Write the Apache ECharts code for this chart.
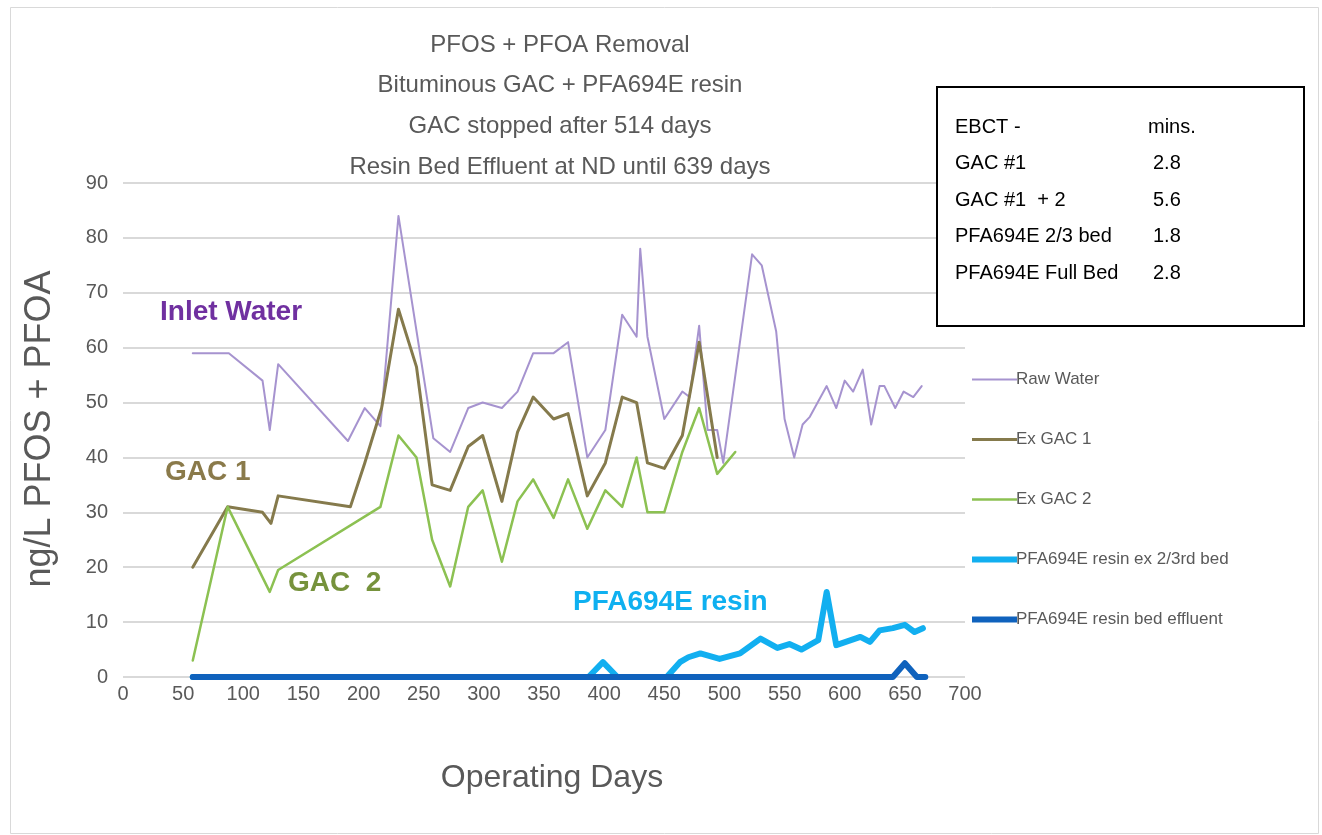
<!DOCTYPE html>
<html>
<head>
<meta charset="utf-8">
<script src="https://cdn.jsdelivr.net/npm/echarts@6/dist/echarts.min.js"></script>
<style>
html,body{margin:0;padding:0;background:#fff;}
#chart{width:1322px;height:835px;}
</style>
</head>
<body>
<div id="chart"></div>
<script>
// ---- data ----
const titleLines = ["PFOS + PFOA Removal","Bituminous GAC + PFA694E resin","GAC stopped after 514 days","Resin Bed Effluent at ND until 639 days"];
const seriesNames = ["Raw Water","Ex GAC 1","Ex GAC 2","PFA694E resin ex 2/3rd bed","PFA694E resin bed effluent"];
const rawDays = [58,88,116,122,129,187,201,214,229,258,272,287,299,315,328,341,358,370,386,401,415,427,430,436,450,465,471,479,486,494,499,523,531,543,550,558,565,571,585,593,600,607,615,622,629,633,642,649,657,664];
const rawVals = [59,59,54,45,57,43,49,45.7,84,43.5,41,49,50,49,52,59,59,61,40,45,66,62,78,62,47,52,51,64,45,45,39,77,75,63,47,40,46,47.4,53,49,54,52,56,46,53,53,49,52,51,53];
const gac1Days = [58,87,116,123,129,189,201,215,229,244,257,272,287,299,315,328,341,358,370,386,401,415,427,436,450,465,479,494];
const gac1Vals = [20,31,30,28,33,31,39,49,67,56.5,35,34,42,44,32,44.6,51,47,48,33,39,51,50,39,38,44,61,40];
const gac2Days = [58,87,122,129,214,229,244,257,272,287,299,315,328,341,358,370,386,401,415,427,436,450,465,479,494,509];
const gac2Vals = [3,31,15.5,19.5,31,44,40,25,16.5,31,34,21,32,36,29,36,27,34,31,40,30,30,41,49,37,41];
const resinDays = [58,387,399,411,452,463,470,480,496,513,530,544,554,564,578,585,593,613,621,629,640,650,658,665];
const resinVals = [0,0,2.7,0,0,2.7,3.6,4.3,3.3,4.3,7,5.3,6,5,6.7,15.5,5.8,7.3,6.4,8.5,8.9,9.5,8.2,8.9];
const effDays = [58,640,650,660,667];
const effVals = [0,0,2.5,0,0];
const annotations = ["Inlet Water","GAC 1","GAC  2","PFA694E resin"];
const ebctLabels = ["EBCT -","GAC #1","GAC #1  + 2","PFA694E 2/3 bed","PFA694E Full Bed"];
const ebctValues = ["mins.","2.8","5.6","1.8","2.8"];

const colors = ["#a693cf","#857a4c","#8cc152","#12aff0","#0f62bd"];
const widths = [2,3,2.5,6,6];
const zip = (a,b)=>a.map((d,i)=>[d,b[i]]);
const allData = [zip(rawDays,rawVals),zip(gac1Days,gac1Vals),zip(gac2Days,gac2Vals),zip(resinDays,resinVals),zip(effDays,effVals)];

const NARROW = "'Liberation Sans Narrow','Liberation Sans',sans-serif";
const GRAY = "#595959";

const series = seriesNames.map((n,i)=>({
  name:n, type:'line', data:allData[i], showSymbol:false, symbol:'none',
  lineStyle:{color:colors[i],width:widths[i],join:'round',cap:'round'},
  itemStyle:{color:colors[i]}, z: 2+i, animation:false
}));

const legends = seriesNames.map((n,i)=>({
  data:[n], left:967, top:377+60*i-11, orient:'vertical', icon:'rect',
  itemWidth:45, itemHeight:widths[i], itemGap:0,
  textStyle:{fontFamily:NARROW,fontSize:17,color:GRAY,padding:[0,0,0,-6]},
  selectedMode:false
}));

const graphics = [];
graphics.push({type:'rect',left:8,top:5,shape:{width:1308,height:826},style:{fill:'none',stroke:'#d9d9d9',lineWidth:1},silent:true,z:0});
titleLines.forEach((t,i)=>graphics.push({type:'text',x:560,y:45+40.7*i,style:{text:t,fill:GRAY,font:"24px "+NARROW,textAlign:'center',textVerticalAlign:'middle'},z:5}));
const annPos = [[160,312,'#7030a0'],[165,472,'#8a7a4a'],[288,583,'#76923c'],[573,602,'#0fb0f0']];
annotations.forEach((t,i)=>graphics.push({type:'text',x:annPos[i][0],y:annPos[i][1],style:{text:t,fill:annPos[i][2],font:"bold 28px "+NARROW,textVerticalAlign:'middle'},z:5}));
graphics.push({type:'rect',shape:{x:937,y:87,width:367,height:239},style:{fill:'#fff',stroke:'#000',lineWidth:2},z:5});
ebctLabels.forEach((t,i)=>{
  graphics.push({type:'text',x:955,y:127+36.5*i,style:{text:t,fill:'#000',font:"20px "+NARROW,textVerticalAlign:'middle'},z:6});
  graphics.push({type:'text',x:i===0?1148:1153,y:127+36.5*i,style:{text:ebctValues[i],fill:'#000',font:"20px "+NARROW,textVerticalAlign:'middle'},z:6});
});
graphics.push({type:'text',x:40,y:429,rotation:Math.PI/2,style:{text:"ng/L PFOS + PFOA",fill:GRAY,font:"36px 'Liberation Sans',sans-serif",textAlign:'center',textVerticalAlign:'middle'},z:5});
graphics.push({type:'text',x:552,y:778,style:{text:"Operating Days",fill:GRAY,font:"32px "+NARROW,textAlign:'center',textVerticalAlign:'middle'},z:5});

const chart = echarts.init(document.getElementById('chart'),null,{renderer:'canvas'});
chart.setOption({
  backgroundColor:'#fff',
  animation:false,
  grid:{left:123,right:357,top:183,bottom:158},
  xAxis:{type:'value',min:0,max:700,interval:50,
    axisLine:{show:false},axisTick:{show:false},splitLine:{show:false},
    axisLabel:{fontFamily:NARROW,fontSize:20,color:GRAY,margin:7}},
  yAxis:{type:'value',min:0,max:90,interval:10,
    axisLine:{show:false},axisTick:{show:false},
    splitLine:{lineStyle:{color:'#d9d9d9',width:2}},
    axisLabel:{fontFamily:NARROW,fontSize:20,color:GRAY,margin:15}},
  legend:legends,
  series:series,
  graphic:graphics
});
</script>
</body>
</html>
